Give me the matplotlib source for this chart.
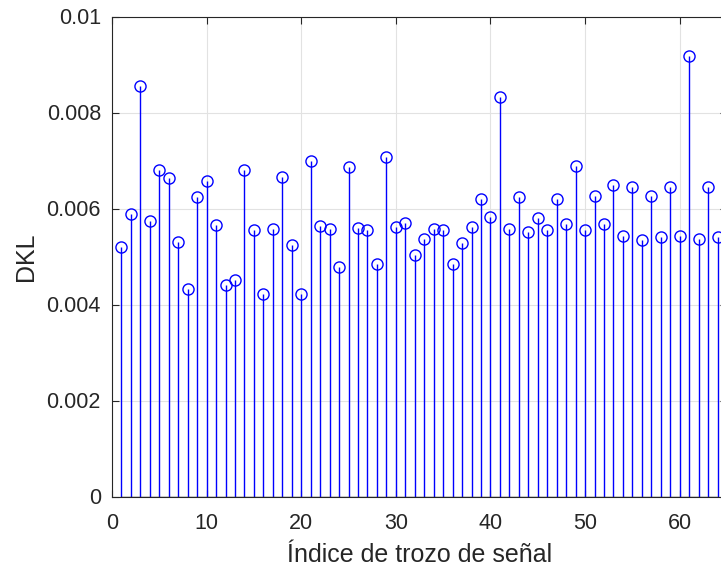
import numpy as np
import matplotlib.pyplot as plt

plt.rcParams['font.family'] = ['Liberation Sans', 'DejaVu Sans']

# Divergencia KL por trozo de señal
indices = np.arange(1, 65)
dkl = [0.00520, 0.00588, 0.00856, 0.00575, 0.00680, 0.00664, 0.00531, 0.00432,
       0.00623, 0.00657, 0.00566, 0.00441, 0.00452, 0.00680, 0.00555, 0.00421,
       0.00557, 0.00666, 0.00524, 0.00421, 0.00699, 0.00564, 0.00557, 0.00479,
       0.00686, 0.00560, 0.00555, 0.00484, 0.00707, 0.00562, 0.00569, 0.00503,
       0.00536, 0.00558, 0.00555, 0.00484, 0.00529, 0.00561, 0.00620, 0.00583,
       0.00832, 0.00558, 0.00623, 0.00552, 0.00580, 0.00556, 0.00620, 0.00568,
       0.00689, 0.00556, 0.00626, 0.00567, 0.00650, 0.00543, 0.00645, 0.00534,
       0.00626, 0.00541, 0.00645, 0.00543, 0.00918, 0.00536, 0.00644, 0.00541]

yticks = [0, 0.002, 0.004, 0.006, 0.008, 0.01]
yticklabels = ['0', '0.002', '0.004', '0.006', '0.008', '0.01']
xticks = [0, 10, 20, 30, 40, 50, 60]

fig = plt.figure(figsize=(7.21, 5.71), dpi=100)
ax = fig.add_axes([112 / 721, 1 - 496.5 / 571, 615 / 721, 480 / 571])

markerline, stemlines, baseline = ax.stem(indices, dkl, linefmt='-', markerfmt='o', basefmt='-')
plt.setp(stemlines, color='#0000ff', linewidth=1.0)
plt.setp(markerline, markerfacecolor='none', markeredgecolor='#0000ff',
         markersize=8, markeredgewidth=1.0)
plt.setp(baseline, color='#262626', linewidth=1.0)

ax.set_xlim(0, 65)
ax.set_ylim(0, 0.01)
ax.set_xticks(xticks)
ax.set_yticks(yticks)
ax.set_yticklabels(yticklabels)
ax.grid(True, color='#e2e2e2', linewidth=0.8)
ax.set_axisbelow(True)

for side in ['left', 'bottom', 'top', 'right']:
    ax.spines[side].set_color('#262626')
    ax.spines[side].set_linewidth(0.8)
ax.tick_params(direction='in', length=5, width=0.8, color='#262626',
               labelsize=15.5, labelcolor='#262626', top=True, right=True)
ax.tick_params(axis='x', pad=12)
ax.tick_params(axis='y', pad=8)

ax.set_xlabel('Índice de trozo de señal', fontsize=18, color='#262626', labelpad=6)
ax.set_ylabel('DKL', fontsize=18, color='#262626', labelpad=6)

fig.savefig('out.png', dpi=100)
